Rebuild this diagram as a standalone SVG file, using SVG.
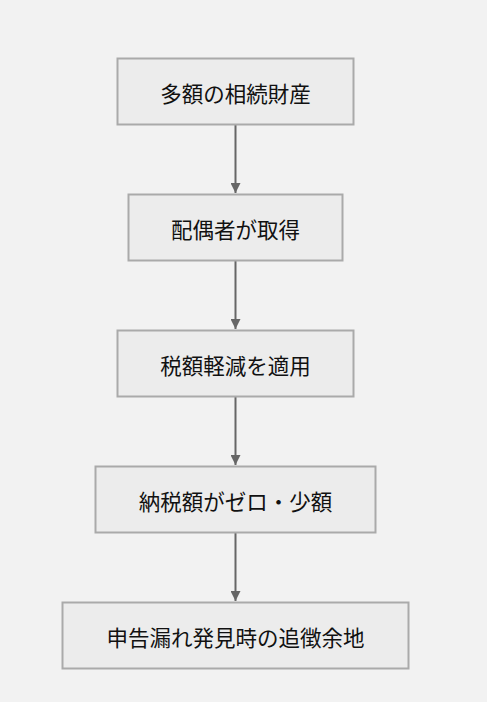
<svg xmlns="http://www.w3.org/2000/svg" width="487" height="702" viewBox="0 0 487 702">
<style>
.box{fill:#ececec;stroke:#aaaaaa;stroke-width:2}
.lbl{font-family:"Noto Sans CJK JP","Noto Sans CJK SC",sans-serif;font-size:21.5px;fill:#111;text-anchor:middle;dominant-baseline:central}
.edge{stroke:#666666;stroke-width:2;fill:none}
</style>
<defs>
<marker id="arr" viewBox="0 0 10 10" refX="10" refY="5" markerWidth="10" markerHeight="10" markerUnits="userSpaceOnUse" orient="auto">
<path d="M0,0 L10,5 L0,10 z" fill="#666666"/>
</marker>
</defs>
<rect width="487" height="702" fill="#f2f2f2"/>
<g id="edges">
<line class="edge" x1="235.5" y1="125" x2="235.5" y2="193" marker-end="url(#arr)"/>
<line class="edge" x1="235.5" y1="261" x2="235.5" y2="329" marker-end="url(#arr)"/>
<line class="edge" x1="235.5" y1="397" x2="235.5" y2="465" marker-end="url(#arr)"/>
<line class="edge" x1="235.5" y1="533" x2="235.5" y2="601" marker-end="url(#arr)"/>
</g>
<g id="n1"><rect class="box" x="117.5" y="58.5" width="236" height="66"/><text class="lbl" x="235.5" y="92">多額の相続財産</text></g>
<g id="n2"><rect class="box" x="128.5" y="194.5" width="214" height="66"/><text class="lbl" x="235.5" y="228">配偶者が取得</text></g>
<g id="n3"><rect class="box" x="117.5" y="330.5" width="236" height="66"/><text class="lbl" x="235.5" y="364">税額軽減を適用</text></g>
<g id="n4"><rect class="box" x="95.5" y="466.5" width="280" height="66"/><text class="lbl" x="235.5" y="500">納税額がゼロ・少額</text></g>
<g id="n5"><rect class="box" x="62.5" y="602.5" width="346" height="66"/><text class="lbl" x="235.5" y="636">申告漏れ発見時の追徴余地</text></g>
</svg>
